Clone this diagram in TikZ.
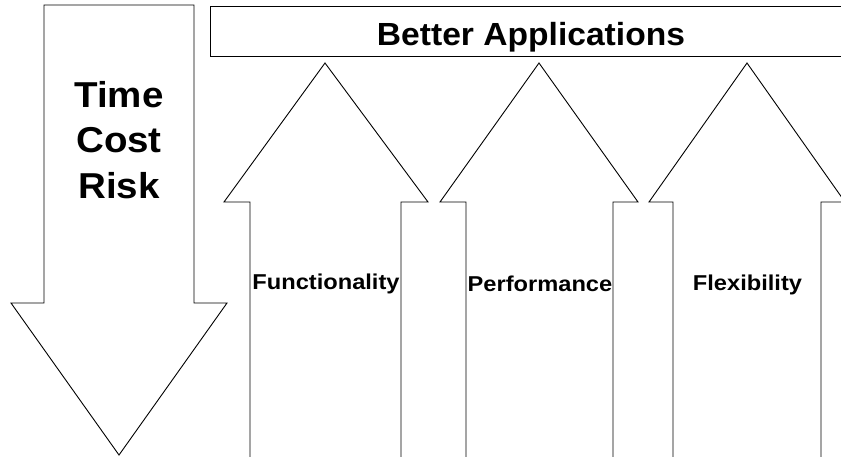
\documentclass[tikz,border=0pt]{standalone}
\usepackage{fontspec}
\setmainfont{Liberation Sans}
\begin{document}
\begin{tikzpicture}[x=1pt,y=-1pt,
  shapeline/.style={draw=black,line width=0.9pt,line join=miter},
  bigtxt/.style={font=\bfseries\fontsize{36}{36}\selectfont,anchor=base,inner sep=0pt},
  titletxt/.style={font=\bfseries\fontsize{32}{32}\selectfont,anchor=base,inner sep=0pt},
  lbltxt/.style={font=\bfseries\fontsize{21.5}{21.5}\selectfont,anchor=base,inner sep=0pt}]
\useasboundingbox (0,0) rectangle (841,456);
\clip (0,0) rectangle (841,456);
% down arrow
\draw[shapeline] (44,5) -- (194,5) -- (194,303) -- (227,303) -- (119,455) -- (11,303) -- (44,303) -- cycle;
\node[bigtxt] (time) at (119,107) {\scalebox{1.07}[1]{Time}};
\node[bigtxt] (cost) at (119,152) {\scalebox{1.07}[1]{Cost}};
\node[bigtxt] (risk) at (119,198) {\scalebox{1.07}[1]{Risk}};
% top box
\draw[shapeline] (860,6) -- (210,6) -- (210,56) -- (860,56);
\node[titletxt] (title) at (531,45) {\scalebox{1.05}[1]{Better Applications}};
% up arrows
\draw[shapeline] (250,470) -- (250,202) -- (224,202) -- (325,63) -- (428,202) -- (401,202) -- (401,470);
\draw[shapeline] (466,470) -- (466,202) -- (440,202) -- (539,63) -- (638,202) -- (613,202) -- (613,470);
\draw[shapeline] (673,470) -- (673,202) -- (649,202) -- (747,63) -- (845,202) -- (821,202) -- (821,470);
\node[lbltxt] (func) at (326,289) {\scalebox{1.1}[1]{Functionality}};
\node[lbltxt] (perf) at (540,291) {\scalebox{1.1}[1]{Performance}};
\node[lbltxt] (flex) at (747.5,290) {\scalebox{1.1}[1]{Flexibility}};
\end{tikzpicture}
\end{document}
